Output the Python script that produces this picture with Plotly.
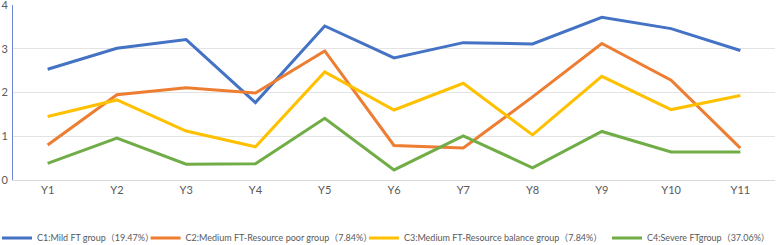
import plotly.graph_objects as go

categories = ["Y1", "Y2", "Y3", "Y4", "Y5", "Y6", "Y7", "Y8", "Y9", "Y10", "Y11"]
c1 = [2.53, 3.01, 3.21, 1.77, 3.52, 2.79, 3.14, 3.11, 3.72, 3.46, 2.96]
c2 = [0.80, 1.95, 2.11, 1.99, 2.95, 0.79, 0.73, 1.90, 3.12, 2.28, 0.73]
c3 = [1.45, 1.83, 1.12, 0.76, 2.47, 1.60, 2.21, 1.03, 2.37, 1.61, 1.93]
c4 = [0.38, 0.96, 0.36, 0.37, 1.41, 0.23, 1.01, 0.28, 1.11, 0.64, 0.64]
yticks = [0, 1, 2, 3, 4]
names = [
    "C1:Mild FT group（19.47%）",
    "C2:Medium FT-Resource poor group（7.84%）",
    "C3:Medium FT-Resource balance group（7.84%）",
    "C4:Severe FTgroup（37.06%）",
]
colors = ["#4472C4", "#ED7D31", "#FFC000", "#70AD47"]
legend_ids = ["legend", "legend2", "legend3", "legend4"]
legend_x = [-0.021, 0.1740, 0.4605, 1.0]
legend_anchor = ["left", "left", "left", "right"]

font = "Lato, Noto Sans CJK SC, sans-serif"

fig = go.Figure()
for name, vals, col, lid in zip(names, [c1, c2, c3, c4], colors, legend_ids):
    fig.add_trace(go.Scatter(x=categories, y=vals, mode="lines", name=name,
                             line=dict(color=col, width=3), legend=lid))

legend_style = dict(orientation="h", y=-0.331, yanchor="middle",
                    font=dict(family=font, size=9, color="#595959"), itemwidth=30,
                    bgcolor="rgba(0,0,0,0)", borderwidth=0)
layout_legends = {lid: dict(x=lx, xanchor=la, **legend_style)
                  for lid, lx, la in zip(legend_ids, legend_x, legend_anchor)}

fig.update_layout(
    width=777, height=245,
    margin=dict(l=13, r=2, t=5, b=65, autoexpand=False),
    paper_bgcolor="white", plot_bgcolor="white",
    font=dict(family=font, size=11, color="#595959"),
    showlegend=True,
    xaxis=dict(type="category", range=[-0.5, 10.5], showgrid=False, showline=True,
               linecolor="#D9D9D9", linewidth=1, ticks="", tickfont=dict(size=11, color="#595959"),
               fixedrange=True, automargin=False),
    yaxis=dict(range=[0, 4], tickvals=yticks, showgrid=True, gridcolor="#E3E3E3", gridwidth=1,
               showline=True, linecolor="#6D87D6", linewidth=1, zeroline=False,
               ticks="", tickfont=dict(size=11, color="#595959"), ticklabelstandoff=2,
               ticklabeloverflow="allow", fixedrange=True, automargin=False),
    **layout_legends,
)
fig.write_html("out.html", config={"displayModeBar": False},
               post_script="document.body.style.margin='0';")
